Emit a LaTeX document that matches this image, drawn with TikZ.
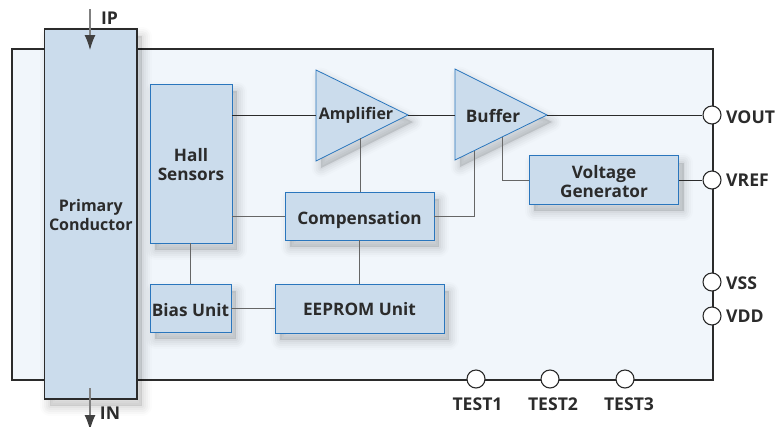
\documentclass[tikz,border=0pt]{standalone}
\usepackage{fontspec}
\setmainfont{Open Sans}
\usetikzlibrary{arrows.meta}
\definecolor{chipfill}{HTML}{F1F6FB}
\definecolor{blockfill}{HTML}{CBDCEC}
\definecolor{blockedge}{HTML}{2A76BD}
\definecolor{inkdark}{HTML}{2B2B2B}
\tikzset{
 softshadow/.style={
  preaction={draw=black,fill=black,opacity=.012,line width=19pt,line join=round,transform canvas={shift={(5pt,-7pt)}}},
  preaction={draw=black,fill=black,opacity=.018,line width=15pt,line join=round,transform canvas={shift={(5pt,-7pt)}}},
  preaction={draw=black,fill=black,opacity=.022,line width=11pt,line join=round,transform canvas={shift={(5pt,-7pt)}}},
  preaction={draw=black,fill=black,opacity=.025,line width=7pt,line join=round,transform canvas={shift={(5pt,-7pt)}}},
  preaction={draw=black,fill=black,opacity=.03,line width=3pt,line join=round,transform canvas={shift={(5pt,-7pt)}}}},
 blockbox/.style={softshadow,draw=blockedge,fill=blockfill,line width=.8pt,inner sep=0pt},
 tribox/.style={softshadow,draw=blockedge,fill=blockfill,line width=.8pt,line join=miter},
 blocklabel/.style={inner sep=0pt,align=center,font=\fontsize{17.2}{19}\selectfont\bfseries,text=inkdark},
 narrowlabel/.style={inner sep=0pt,align=center,font=\fontsize{16}{19}\selectfont\bfseries,text=inkdark},
 wire/.style={draw=inkdark,line width=.8pt},
 greywire/.style={draw=black!60,line width=1pt},
 pin/.style={circle,draw=inkdark,fill=white,line width=1.1pt,minimum size=18pt,inner sep=0pt},
 pinlabel/.style={inner sep=0pt,font=\fontsize{17.6}{19}\selectfont\bfseries,text=inkdark},
 currentarrow/.style={draw=black!50,line width=1.3pt,-{Latex[length=15pt,width=11pt,color=black!75]}}
}
\begin{document}
\begin{tikzpicture}[x=1pt,y=-1pt]
\useasboundingbox (0,0) rectangle (778,426);
\clip (0,0) rectangle (778,426);
% chip body
\node[draw=inkdark,fill=chipfill,line width=2pt,minimum width=701pt,minimum height=331pt,inner sep=0pt] (chip) at (362,214.5) {};
% primary conductor
\node[softshadow,draw=inkdark,fill=blockfill,line width=1.6pt,minimum width=92.5pt,minimum height=370pt,inner sep=0pt] (prim) at (90.8,214) {};
\node[narrowlabel] (primtext) at (90.8,215) {Primary\\Conductor};
% blocks
\node[blockbox,minimum width=82pt,minimum height=159pt] (hall) at (191,163.5) {};
\node[blocklabel] (halltext) at (191,165) {Hall\\Sensors};
\node[blockbox,minimum width=81pt,minimum height=48pt] (bias) at (190.5,308) {};
\node[blocklabel] (biastext) at (190.5,310) {Bias Unit};
\node[blockbox,minimum width=169pt,minimum height=49pt] (eeprom) at (359.5,308.5) {};
\node[blocklabel] (eepromtext) at (359.5,309.5) {EEPROM Unit};
\node[blockbox,minimum width=149pt,minimum height=48pt] (comp) at (359.5,216) {};
\node[blocklabel] (comptext) at (359.5,220) {Compensation};
\node[blockbox,minimum width=149.5pt,minimum height=48.5pt] (vgen) at (604,180) {};
\node[blocklabel] (vgentext) at (604,182) {Voltage\\Generator};
% triangles
\coordinate (ampA) at (316,70); \coordinate (ampB) at (316,161); \coordinate (ampTip) at (408,115);
\coordinate (bufA) at (455,69); \coordinate (bufB) at (455,160); \coordinate (bufTip) at (547,115);
\path[tribox] (ampA) -- (ampTip) -- (ampB) -- cycle;
\path[tribox] (bufA) -- (bufTip) -- (bufB) -- cycle;
\node[narrowlabel] (amptext) at (356,115.5) {Amplifier};
\node[blocklabel] (buftext) at (493,116) {Buffer};
% pins
\node[pin] (vout) at (712,115) {};
\node[pin] (vref) at (712,180) {};
\node[pin] (vss) at (712,282) {};
\node[pin] (vdd) at (712,316) {};
\node[pin] (t1) at (476,379) {};
\node[pin] (t2) at (550,379) {};
\node[pin] (t3) at (625,379) {};
\node[pinlabel,anchor=west] (voutl) at (726,117) {VOUT};
\node[pinlabel,anchor=west] (vrefl) at (726,180) {VREF};
\node[pinlabel,anchor=west] (vssl) at (726,283) {VSS};
\node[pinlabel,anchor=west] (vddl) at (726,316) {VDD};
\node[pinlabel] (t1l) at (477.5,404) {TEST1};
\node[pinlabel] (t2l) at (553,404) {TEST2};
\node[pinlabel] (t3l) at (629,404) {TEST3};
% wires
\coordinate (ampIn) at (316,115);
\coordinate (bufIn) at (455,115);
\coordinate (ampLow) at (360,138);
\coordinate (bufLowA) at (474,151);
\coordinate (bufLowB) at (502,137);
\draw[wire] (hall.east |- ampIn) -- (ampIn);
\draw[wire] (ampTip) -- (bufIn);
\draw[wire] (bufTip) -- (vout.west);
\draw[greywire] (comp.north -| ampLow) -- (ampLow);
\draw[greywire] (comp.west) -- (comp.west -| hall.east);
\draw[greywire] (comp.east) -| (bufLowA);
\draw[greywire] (bufLowB) |- (vgen.west);
\draw[wire] (vgen.east) -- (vref.west);
\draw[greywire] (hall.south -| bias.north) -- (bias.north);
\draw[greywire] (bias.east) -- (bias.east -| eeprom.west);
\draw[greywire] (comp.south) -- (comp.south |- eeprom.north);
% current arrows
\coordinate (ipS) at (90,9); \coordinate (ipE) at (90,50);
\coordinate (inS) at (90,388); \coordinate (inE) at (90,430);
\draw[currentarrow] (ipS) -- (ipE);
\draw[currentarrow] (inS) -- (inE);
\node[pinlabel] (ip) at (109.5,18.5) {IP};
\node[pinlabel] (in) at (110,413.5) {IN};
\end{tikzpicture}
\end{document}
